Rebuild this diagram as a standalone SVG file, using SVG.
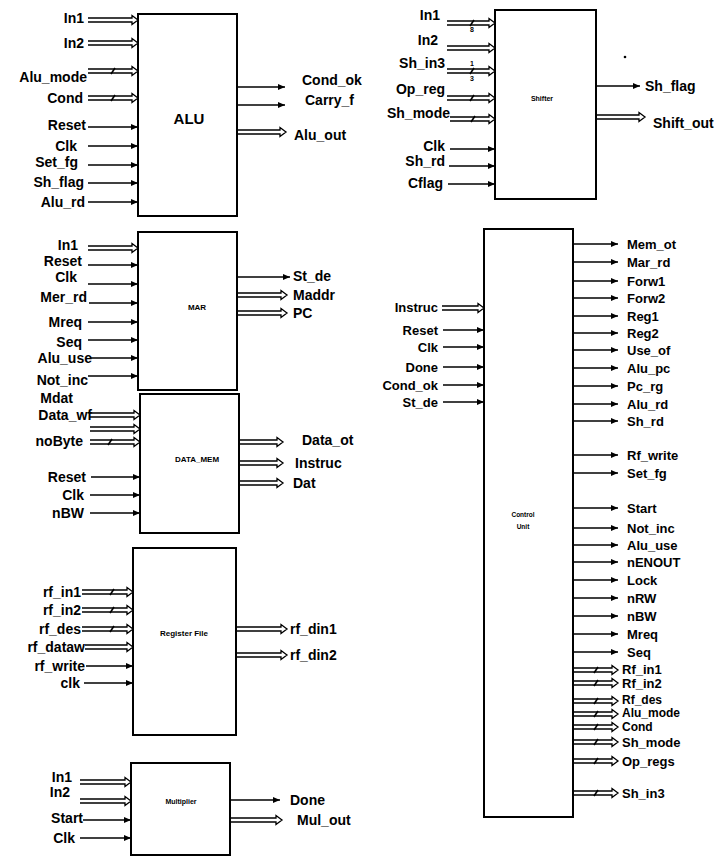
<svg xmlns="http://www.w3.org/2000/svg" width="720" height="857" viewBox="0 0 720 857">
<defs>
<marker id="ah" markerUnits="userSpaceOnUse" markerWidth="7" markerHeight="6" refX="7" refY="3" orient="auto"><path d="M0,0 L7,3 L0,6 z" fill="#000"/></marker>
<style>
.box{fill:#fff;stroke:#000;stroke-width:2}
.w{stroke:#000;stroke-width:1.5;fill:none;marker-end:url(#ah)}
.bus{fill:#fff;stroke:#000;stroke-width:1.3;stroke-linejoin:miter}
.tk{stroke:#000;stroke-width:1.6}
text{font-family:"Liberation Sans",Arial,sans-serif;font-weight:bold;fill:#000}
.l{font-size:14px}
.c{font-size:13px}
.s{font-size:12px}
.r{text-anchor:end}
.m{text-anchor:middle}
.t{font-size:8px;text-anchor:middle}
.n{font-size:7px;text-anchor:middle}
</style>
</defs>
<rect width="720" height="857" fill="#fff"/>

<g id="connectors">
<!-- ALU -->
<path class="bus" d="M88 18h44v-2.5l6 4.5-6 4.5v-2.5h-44"/>
<path class="bus" d="M88 41h44v-2.5l6 4.5-6 4.5v-2.5h-44"/>
<path class="bus" d="M88 69h44v-2.5l6 4.5-6 4.5v-2.5h-44"/>
<path class="bus" d="M88 96h44v-2.5l6 4.5-6 4.5v-2.5h-44"/>
<path class="tk" d="M111 74L115 68M111 101L115 95"/>
<line class="w" x1="88" y1="127" x2="138" y2="127"/>
<line class="w" x1="88" y1="146" x2="138" y2="146"/>
<line class="w" x1="88" y1="165" x2="138" y2="165"/>
<line class="w" x1="88" y1="183" x2="138" y2="183"/>
<line class="w" x1="88" y1="202" x2="138" y2="202"/>
<line class="w" x1="237" y1="87" x2="285" y2="87"/>
<line class="w" x1="237" y1="105" x2="285" y2="105"/>
<path class="bus" d="M237 130h43v-2.5l6 4.5-6 4.5v-2.5h-43"/>
<!-- MAR -->
<path class="bus" d="M88 246h44v-2.5l6 4.5-6 4.5v-2.5h-44"/>
<line class="w" x1="88" y1="265" x2="138" y2="265"/>
<line class="w" x1="88" y1="284" x2="138" y2="284"/>
<line class="w" x1="89" y1="303" x2="138" y2="303"/>
<line class="w" x1="88" y1="322" x2="138" y2="322"/>
<line class="w" x1="88" y1="340" x2="138" y2="340"/>
<line class="w" x1="90" y1="358" x2="138" y2="358"/>
<line class="w" x1="88" y1="376" x2="138" y2="376"/>
<line class="w" x1="237" y1="277" x2="290" y2="277"/>
<path class="bus" d="M237 293h44v-2.5l6 4.5-6 4.5v-2.5h-44"/>
<path class="bus" d="M237 311h44v-2.5l6 4.5-6 4.5v-2.5h-44"/>
<!-- DATA_MEM -->
<path class="bus" d="M90 413h44v-2.5l6 4.5-6 4.5v-2.5h-44"/>
<path class="bus" d="M90 427h44v-2.5l6 4.5-6 4.5v-2.5h-44"/>
<path class="bus" d="M90 440h44v-2.5l6 4.5-6 4.5v-2.5h-44"/>
<path class="tk" d="M108 445L112 439"/>
<line class="w" x1="91" y1="477" x2="140" y2="477"/>
<line class="w" x1="90" y1="495" x2="140" y2="495"/>
<line class="w" x1="90" y1="513" x2="140" y2="513"/>
<path class="bus" d="M239 440h38v-2.5l6 4.5-6 4.5v-2.5h-38"/>
<path class="bus" d="M239 461h38v-2.5l6 4.5-6 4.5v-2.5h-38"/>
<path class="bus" d="M239 481h38v-2.5l6 4.5-6 4.5v-2.5h-38"/>
<!-- Register File -->
<path class="bus" d="M82 590h45v-2.5l6 4.5-6 4.5v-2.5h-45"/>
<path class="bus" d="M82 608h45v-2.5l6 4.5-6 4.5v-2.5h-45"/>
<path class="bus" d="M82 627h45v-2.5l6 4.5-6 4.5v-2.5h-45"/>
<path class="bus" d="M85 645h42v-2.5l6 4.5-6 4.5v-2.5h-42"/>
<path class="tk" d="M110 595L114 589M110 613L114 607M110 632L114 626"/>
<line class="w" x1="86" y1="666" x2="133" y2="666"/>
<line class="w" x1="84" y1="683" x2="133" y2="683"/>
<path class="bus" d="M236 627h45v-2.5l6 4.5-6 4.5v-2.5h-45"/>
<path class="bus" d="M236 653h45v-2.5l6 4.5-6 4.5v-2.5h-45"/>
<!-- Multiplier -->
<path class="bus" d="M80 780h45v-2.5l6 4.5-6 4.5v-2.5h-45"/>
<path class="bus" d="M80 799h45v-2.5l6 4.5-6 4.5v-2.5h-45"/>
<line class="w" x1="83" y1="820" x2="131" y2="820"/>
<line class="w" x1="80" y1="838" x2="131" y2="838"/>
<line class="w" x1="230" y1="800" x2="280" y2="800"/>
<path class="bus" d="M230 818h46v-2.5l6 4.5-6 4.5v-2.5h-46"/>
<!-- Shifter -->
<path class="bus" d="M447 21h42v-2.5l6 4.5-6 4.5v-2.5h-42"/>
<path class="bus" d="M447 46h42v-2.5l6 4.5-6 4.5v-2.5h-42"/>
<path class="bus" d="M447 69h42v-2.5l6 4.5-6 4.5v-2.5h-42"/>
<path class="bus" d="M447 96h42v-2.5l6 4.5-6 4.5v-2.5h-42"/>
<path class="bus" d="M450 117h39v-2.5l6 4.5-6 4.5v-2.5h-39"/>
<path class="tk" d="M470 26L474 20M470 74L474 68M470 101L474 95M471 122L475 116"/>
<text class="n" x="472" y="32">8</text>
<text class="n" x="472" y="66">1</text>
<text class="n" x="472" y="81">3</text>
<line class="w" x1="450" y1="149" x2="495" y2="149"/>
<line class="w" x1="449" y1="166" x2="495" y2="166"/>
<line class="w" x1="448" y1="184" x2="495" y2="184"/>
<line class="w" x1="596" y1="86" x2="640" y2="86"/>
<path class="bus" d="M596 115h43v-2.5l6 4.5-6 4.5v-2.5h-43"/>
<!-- Control Unit inputs -->
<path class="bus" d="M442 306h36v-2.5l6 4.5-6 4.5v-2.5h-36"/>
<line class="w" x1="443" y1="330" x2="484" y2="330"/>
<line class="w" x1="443" y1="347" x2="484" y2="347"/>
<line class="w" x1="443" y1="367" x2="484" y2="367"/>
<line class="w" x1="443" y1="385" x2="484" y2="385"/>
<line class="w" x1="443" y1="402" x2="484" y2="402"/>
<!-- Control Unit outputs -->
<line class="w" x1="573" y1="244" x2="618" y2="244"/>
<line class="w" x1="573" y1="262" x2="618" y2="262"/>
<line class="w" x1="573" y1="281" x2="618" y2="281"/>
<line class="w" x1="573" y1="298" x2="618" y2="298"/>
<line class="w" x1="573" y1="316" x2="618" y2="316"/>
<line class="w" x1="573" y1="333" x2="618" y2="333"/>
<line class="w" x1="573" y1="350" x2="618" y2="350"/>
<line class="w" x1="573" y1="368" x2="618" y2="368"/>
<line class="w" x1="573" y1="386" x2="618" y2="386"/>
<line class="w" x1="573" y1="404" x2="618" y2="404"/>
<line class="w" x1="573" y1="421" x2="618" y2="421"/>
<line class="w" x1="573" y1="455" x2="618" y2="455"/>
<line class="w" x1="573" y1="473" x2="618" y2="473"/>
<line class="w" x1="573" y1="508" x2="618" y2="508"/>
<line class="w" x1="573" y1="528" x2="618" y2="528"/>
<line class="w" x1="573" y1="545" x2="618" y2="545"/>
<line class="w" x1="573" y1="562" x2="618" y2="562"/>
<line class="w" x1="573" y1="580" x2="618" y2="580"/>
<line class="w" x1="573" y1="598" x2="618" y2="598"/>
<line class="w" x1="573" y1="616" x2="618" y2="616"/>
<line class="w" x1="573" y1="634" x2="618" y2="634"/>
<line class="w" x1="573" y1="652" x2="618" y2="652"/>
<path class="bus" d="M573 668h39v-2.5l6 4.5-6 4.5v-2.5h-39"/>
<path class="bus" d="M573 681h39v-2.5l6 4.5-6 4.5v-2.5h-39"/>
<path class="bus" d="M573 699h39v-2.5l6 4.5-6 4.5v-2.5h-39"/>
<path class="bus" d="M573 712h39v-2.5l6 4.5-6 4.5v-2.5h-39"/>
<path class="bus" d="M573 725h39v-2.5l6 4.5-6 4.5v-2.5h-39"/>
<path class="bus" d="M573 740h39v-2.5l6 4.5-6 4.5v-2.5h-39"/>
<path class="bus" d="M573 759h39v-2.5l6 4.5-6 4.5v-2.5h-39"/>
<path class="bus" d="M573 791h39v-2.5l6 4.5-6 4.5v-2.5h-39"/>
<path class="tk" d="M594 673L598 667M594 686L598 680M594 704L598 698M594 717L598 711M594 730L598 724M594 745L598 739M594 764L598 758M594 796L598 790"/>
</g>

<g id="alu">
<rect class="box" x="138" y="14" width="99" height="202"/>
<text class="m" x="189" y="124" style="font-size:15px">ALU</text>
<text class="l r" x="84" y="23">In1</text>
<text class="l r" x="84" y="48">In2</text>
<text class="l r" x="87" y="82">Alu_mode</text>
<text class="l r" x="83" y="103">Cond</text>
<text class="l r" x="86" y="130">Reset</text>
<text class="l r" x="77" y="151">Clk</text>
<text class="l r" x="78" y="167">Set_fg</text>
<text class="l r" x="84" y="187">Sh_flag</text>
<text class="l r" x="85" y="207">Alu_rd</text>
<text class="l" x="302" y="85">Cond_ok</text>
<text class="l" x="305" y="105">Carry_f</text>
<text class="l" x="294" y="140">Alu_out</text>
</g>

<g id="mar">
<rect class="box" x="138" y="232" width="99" height="158"/>
<text class="t" x="197" y="310">MAR</text>
<text class="l r" x="78" y="250">In1</text>
<text class="l r" x="82" y="266">Reset</text>
<text class="l r" x="77" y="282">Clk</text>
<text class="l r" x="87" y="302">Mer_rd</text>
<text class="l r" x="82" y="327">Mreq</text>
<text class="l r" x="82" y="347">Seq</text>
<text class="l r" x="92" y="363">Alu_use</text>
<text class="l r" x="88" y="385">Not_inc</text>
<text class="l" x="293" y="281">St_de</text>
<text class="l" x="293" y="300">Maddr</text>
<text class="l" x="293" y="318">PC</text>
</g>

<g id="data_mem">
<rect class="box" x="140" y="394" width="99" height="139"/>
<text class="t" x="197" y="462">DATA_MEM</text>
<text class="l r" x="73" y="403">Mdat</text>
<text class="l r" x="92" y="420">Data_wf</text>
<text class="l r" x="83" y="446">noByte</text>
<text class="l r" x="86" y="482">Reset</text>
<text class="l r" x="84" y="500">Clk</text>
<text class="l r" x="84" y="518">nBW</text>
<text class="l" x="302" y="445">Data_ot</text>
<text class="l" x="295" y="468">Instruc</text>
<text class="l" x="293" y="488">Dat</text>
</g>

<g id="register_file">
<rect class="box" x="133" y="548" width="103" height="187"/>
<text class="t" x="184" y="636">Register File</text>
<text class="l r" x="81" y="597">rf_in1</text>
<text class="l r" x="81" y="615">rf_in2</text>
<text class="l r" x="81" y="634">rf_des</text>
<text class="l r" x="85" y="652">rf_dataw</text>
<text class="l r" x="85" y="671">rf_write</text>
<text class="l r" x="80" y="688">clk</text>
<text class="l" x="290" y="634">rf_din1</text>
<text class="l" x="290" y="660">rf_din2</text>
</g>

<g id="multiplier">
<rect class="box" x="131" y="763" width="99" height="92"/>
<text class="n" x="181" y="804">Multiplier</text>
<text class="l r" x="72" y="782">In1</text>
<text class="l r" x="70" y="797">In2</text>
<text class="l r" x="83" y="823">Start</text>
<text class="l r" x="75" y="843">Clk</text>
<text class="l" x="290" y="805">Done</text>
<text class="l" x="297" y="825">Mul_out</text>
</g>

<g id="shifter">
<rect class="box" x="495" y="10" width="101" height="189"/>
<text class="n" x="542" y="101">Shifter</text>
<text class="l r" x="440" y="20">In1</text>
<text class="l r" x="438" y="45">In2</text>
<text class="l r" x="445" y="68">Sh_in3</text>
<text class="l r" x="445" y="94">Op_reg</text>
<text class="l r" x="450" y="118">Sh_mode</text>
<text class="l r" x="445" y="151">Clk</text>
<text class="l r" x="445" y="166">Sh_rd</text>
<text class="l r" x="443" y="188">Cflag</text>
<text class="l" x="645" y="91">Sh_flag</text>
<text class="l" x="653" y="128">Shift_out</text>
<circle cx="625" cy="57" r="1.3" fill="#000"/>
</g>

<g id="control_unit">
<rect class="box" x="484" y="229" width="89" height="588"/>
<text class="n" x="523" y="517" style="font-size:6.5px">Control</text>
<text class="n" x="523" y="529" style="font-size:6.5px">Unit</text>
<text class="c r" x="438" y="312">Instruc</text>
<text class="c r" x="438" y="335">Reset</text>
<text class="c r" x="438" y="352">Clk</text>
<text class="c r" x="438" y="372">Done</text>
<text class="c r" x="438" y="390">Cond_ok</text>
<text class="c r" x="438" y="407">St_de</text>
<text class="c" x="627" y="249">Mem_ot</text>
<text class="c" x="627" y="267">Mar_rd</text>
<text class="c" x="627" y="286">Forw1</text>
<text class="c" x="627" y="303">Forw2</text>
<text class="c" x="627" y="321">Reg1</text>
<text class="c" x="627" y="338">Reg2</text>
<text class="c" x="627" y="355">Use_of</text>
<text class="c" x="627" y="373">Alu_pc</text>
<text class="c" x="627" y="391">Pc_rg</text>
<text class="c" x="627" y="409">Alu_rd</text>
<text class="c" x="627" y="426">Sh_rd</text>
<text class="c" x="627" y="460">Rf_write</text>
<text class="c" x="627" y="478">Set_fg</text>
<text class="c" x="627" y="513">Start</text>
<text class="c" x="627" y="533">Not_inc</text>
<text class="c" x="627" y="550">Alu_use</text>
<text class="c" x="627" y="567">nENOUT</text>
<text class="c" x="627" y="585">Lock</text>
<text class="c" x="627" y="603">nRW</text>
<text class="c" x="627" y="621">nBW</text>
<text class="c" x="627" y="639">Mreq</text>
<text class="c" x="627" y="657">Seq</text>
<text class="c" x="622" y="674">Rf_in1</text>
<text class="c" x="622" y="688">Rf_in2</text>
<text class="s" x="622" y="704">Rf_des</text>
<text class="s" x="622" y="717">Alu_mode</text>
<text class="s" x="622" y="731">Cond</text>
<text class="c" x="622" y="747">Sh_mode</text>
<text class="c" x="622" y="766">Op_regs</text>
<text class="c" x="622" y="798">Sh_in3</text>
</g>
</svg>
